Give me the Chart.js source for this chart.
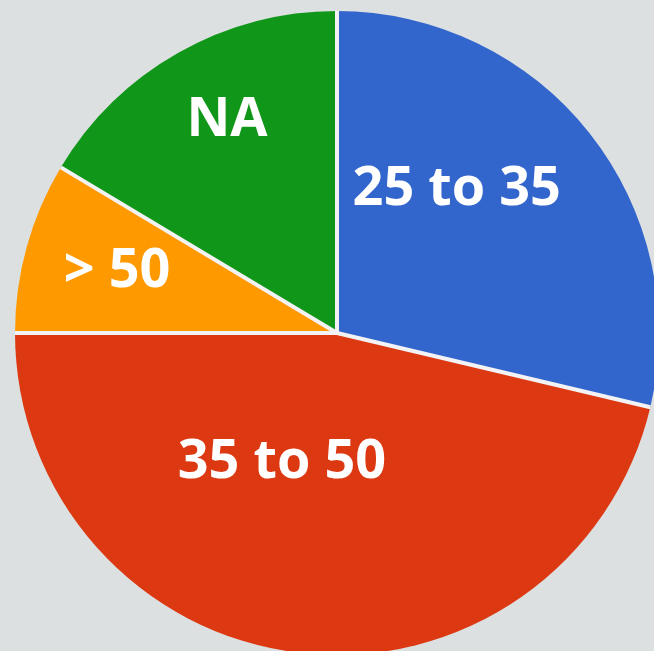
<!DOCTYPE html>
<html>
<head>
<meta charset="utf-8">
<script src="https://cdn.jsdelivr.net/npm/chart.js@4/dist/chart.umd.min.js"></script>
<style>
  html, body { margin: 0; padding: 0; background: #dde0e1; overflow: hidden; width: 654px; height: 651px; }
  #wrap { position: absolute; left: 0; top: 0; width: 670px; height: 665px; }
</style>
</head>
<body>
<div id="wrap"><canvas id="c" width="670" height="665"></canvas></div>
<script>
// Data
const categories = ['25 to 35', '35 to 50', '> 50', 'NA'];
const values = [28.7, 46.3, 8.6, 16.4];
const colors = ['#3366cc', '#dc3912', '#ff9900', '#109618'];

// Label placement styles (fraction of radius, angular shift in degrees)
const labelRadiusFrac = [0.584, 0.433, 0.711, 0.747];
const labelAngleShift = [-12.1, 16.6, 0.7, 2.3];

const sliceLabels = {
  id: 'sliceLabels',
  afterDatasetsDraw(chart) {
    const ctx = chart.ctx;
    const arcs = chart.getDatasetMeta(0).data;
    ctx.save();
    // separators
    ctx.strokeStyle = '#f3f3f5';
    ctx.lineWidth = 4;
    ctx.lineCap = 'butt';
    arcs.forEach(a => {
      const p = a.getProps(['x', 'y', 'startAngle', 'outerRadius'], true);
      ctx.beginPath();
      ctx.moveTo(p.x, p.y);
      ctx.lineTo(p.x + Math.cos(p.startAngle) * p.outerRadius, p.y + Math.sin(p.startAngle) * p.outerRadius);
      ctx.stroke();
    });
    // labels
    ctx.fillStyle = '#ffffff';
    ctx.font = 'bold 54px "Open Sans"';
    ctx.textAlign = 'center';
    ctx.textBaseline = 'middle';
    arcs.forEach((a, i) => {
      const p = a.getProps(['x', 'y', 'startAngle', 'endAngle', 'outerRadius'], true);
      const mid = (p.startAngle + p.endAngle) / 2 + labelAngleShift[i] * Math.PI / 180;
      const r = p.outerRadius * labelRadiusFrac[i];
      ctx.fillText(categories[i], p.x + Math.cos(mid) * r, p.y + Math.sin(mid) * r + 2);
    });
    ctx.restore();
  }
};

new Chart(document.getElementById('c'), {
  type: 'pie',
  data: {
    labels: categories,
    datasets: [{
      data: values,
      backgroundColor: colors,
      borderWidth: 0
    }]
  },
  options: {
    responsive: false,
    animation: false,
    layout: { padding: { left: 15, top: 11, right: 11, bottom: 10 } },
    plugins: { legend: { display: false }, tooltip: { enabled: false } }
  },
  plugins: [sliceLabels]
});
</script>
</body>
</html>
